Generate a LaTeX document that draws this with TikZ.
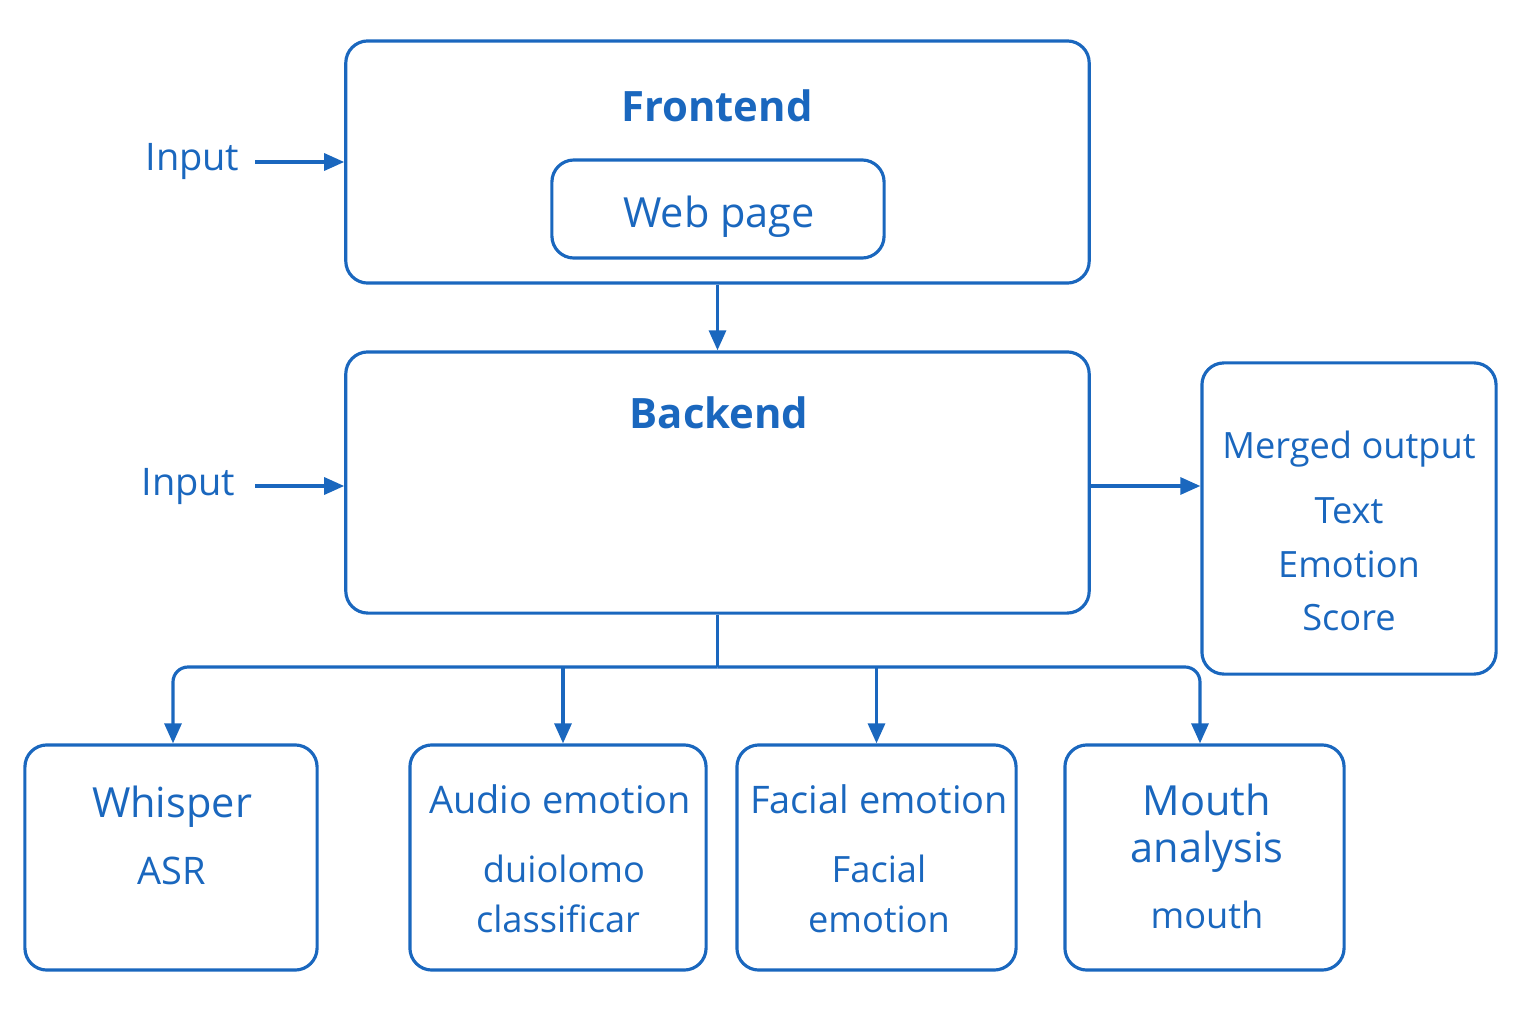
\documentclass[tikz,border=0pt]{standalone}
\usepackage{fontspec}
\setmainfont{Open Sans}
\usetikzlibrary{arrows.meta}
\definecolor{diagblue}{RGB}{26,103,190}

\tikzset{
  blk/.style={draw=diagblue, line width=0.9pt, rounded corners=0.22cm, inner sep=0pt},
  txt/.style={text=diagblue, inner sep=0pt, anchor=base, font=\fontsize{10.3}{12}\selectfont},
  mid/.style={txt, font=\fontsize{10.8}{13}\selectfont},
  big/.style={txt, font=\fontsize{11.8}{14}\selectfont},
  hd/.style={txt, font=\fontsize{11.9}{14}\selectfont\bfseries},
  wire/.style={draw=diagblue, line width=0.9pt},
  arr/.style={wire, -{Triangle[length=2mm,width=1.7mm]}},
}

\begin{document}
\begin{tikzpicture}[x=0.01cm, y=-0.01cm]
		%%%%% START %%%%%
		\useasboundingbox (0,0) rectangle (1536,1024);
		
		% frontend
		\node[blk, minimum width=7.43cm, minimum height=2.42cm] (front) at (717.5,162) {};
		\node[hd] (fronttitle) at (717,121) {Frontend};
		\node[blk, minimum width=3.32cm, minimum height=0.98cm] (web) at (718,209) {};
		\node[big] (webtitle) at (719,227) {Web page};
		
		% backend
		\node[blk, minimum width=7.43cm, minimum height=2.61cm] (back) at (717.5,482.5) {};
		\node[hd] (backtitle) at (719,428) {Backend};
		
		% inputs
		\node[mid, anchor=east] (infront) at (240,162) {Input};
		\node[mid, anchor=east] (inback) at (236,486) {Input};
		\draw[arr, shorten <=0.15cm] (infront.east) -- (front.west);
		\draw[arr, shorten <=0.19cm] (inback.east) -- (back.west |- inback.east);
		\draw[arr] (front.south) -- (back.north);
		
		% merged output
		\node[blk, minimum width=2.94cm, minimum height=3.11cm] (merged) at (1349,518.5) {};
		\node[txt] (mergedtitle) at (1349,458) {Merged output};
		\node[txt] (mergedtext) at (1349,523) {Text};
		\node[txt] (mergedemo) at (1349,577) {Emotion};
		\node[txt] (mergedscore) at (1349,630) {Score};
		\draw[arr] (back.east |- inback.east) -- (merged.west |- inback.east);
		
		% analysis modules
		\node[blk, minimum width=2.92cm, minimum height=2.25cm] (whisper) at (171,857.5) {};
		\node[big] (whispertitle) at (172,817) {Whisper};
		\node[mid] (whispersub) at (172,884) {ASR};
		
		\node[blk, minimum width=2.96cm, minimum height=2.25cm] (audio) at (558,857.5) {};
		\node[mid] (audiotitle) at (560,813) {Audio emotion};
		\node[txt] (audiosub) at (564,882) {duiolomo};
		\node[txt] (audiosubb) at (558,932) {classificar};
		
		\node[blk, minimum width=2.79cm, minimum height=2.25cm] (facial) at (876.5,857.5) {};
		\node[mid] (facialtitle) at (879,813) {Facial emotion};
		\node[txt] (facialsub) at (879,882) {Facial};
		\node[txt] (facialsubb) at (879,932) {emotion};
		
		\node[blk, minimum width=2.79cm, minimum height=2.25cm] (mouth) at (1204.5,857.5) {};
		\node[big] (mouthtitle) at (1207,815) {Mouth};
		\node[big] (mouthtitleb) at (1207,862) {analysis};
		\node[txt] (mouthsub) at (1207,928) {mouth};
		
		% fan-out
		\coordinate (bus) at (717.5,667);
		\draw[wire] (back.south) -- (bus);
		\draw[arr, rounded corners=0.15cm] (bus) -| ([xshift=0.02cm]whisper.north);
		\draw[arr, rounded corners=0.15cm] (bus) -| ([xshift=-0.045cm]mouth.north);
		\draw[arr] ([xshift=0.05cm]audio.north |- bus) -- ([xshift=0.05cm]audio.north);
		\draw[arr] (facial.north |- bus) -- (facial.north);
		
		%%%%% END %%%%%
	\end{tikzpicture}
\end{document}
